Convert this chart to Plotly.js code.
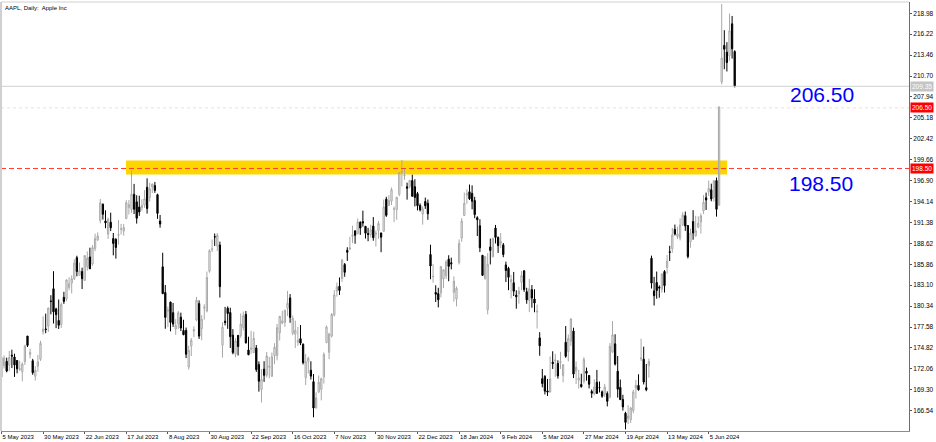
<!DOCTYPE html>
<html>
<head>
<meta charset="utf-8">
<script src="https://cdn.plot.ly/plotly-3.0.1.min.js"></script>
<style>html,body{margin:0;padding:0;background:#fff;}#chart{width:936px;height:442px;}</style>
</head>
<body>
<div id="chart"></div>
<script>
// ---- trading days (one candle each) ----
const dates = [
'2023-05-05','2023-05-08','2023-05-09','2023-05-10','2023-05-11','2023-05-12','2023-05-15','2023-05-16','2023-05-17','2023-05-18','2023-05-19','2023-05-22','2023-05-23','2023-05-24','2023-05-25','2023-05-26','2023-05-30','2023-05-31',
'2023-06-01','2023-06-02','2023-06-05','2023-06-06','2023-06-07','2023-06-08','2023-06-09','2023-06-12','2023-06-13','2023-06-14','2023-06-15','2023-06-16','2023-06-20','2023-06-21','2023-06-22','2023-06-23','2023-06-26','2023-06-27','2023-06-28','2023-06-29','2023-06-30',
'2023-07-03','2023-07-05','2023-07-06','2023-07-07','2023-07-10','2023-07-11','2023-07-12','2023-07-13','2023-07-14','2023-07-17','2023-07-18','2023-07-19','2023-07-20','2023-07-21','2023-07-24','2023-07-25','2023-07-26','2023-07-27','2023-07-28','2023-07-31',
'2023-08-01','2023-08-02','2023-08-03','2023-08-04','2023-08-07','2023-08-08','2023-08-09','2023-08-10','2023-08-11','2023-08-14','2023-08-15','2023-08-16','2023-08-17','2023-08-18','2023-08-21','2023-08-22','2023-08-23','2023-08-24','2023-08-25','2023-08-28','2023-08-29','2023-08-30','2023-08-31',
'2023-09-01','2023-09-05','2023-09-06','2023-09-07','2023-09-08','2023-09-11','2023-09-12','2023-09-13','2023-09-14','2023-09-15','2023-09-18','2023-09-19','2023-09-20','2023-09-21','2023-09-22','2023-09-25','2023-09-26','2023-09-27','2023-09-28','2023-09-29',
'2023-10-02','2023-10-03','2023-10-04','2023-10-05','2023-10-06','2023-10-09','2023-10-10','2023-10-11','2023-10-12','2023-10-13','2023-10-16','2023-10-17','2023-10-18','2023-10-19','2023-10-20','2023-10-23','2023-10-24','2023-10-25','2023-10-26','2023-10-27','2023-10-30','2023-10-31',
'2023-11-01','2023-11-02','2023-11-03','2023-11-06','2023-11-07','2023-11-08','2023-11-09','2023-11-10','2023-11-13','2023-11-14','2023-11-15','2023-11-16','2023-11-17','2023-11-20','2023-11-21','2023-11-22','2023-11-24','2023-11-27','2023-11-28','2023-11-29','2023-11-30',
'2023-12-01','2023-12-04','2023-12-05','2023-12-06','2023-12-07','2023-12-08','2023-12-11','2023-12-12','2023-12-13','2023-12-14','2023-12-15','2023-12-18','2023-12-19','2023-12-20','2023-12-21','2023-12-22','2023-12-26','2023-12-27','2023-12-28','2023-12-29',
'2024-01-02','2024-01-03','2024-01-04','2024-01-05','2024-01-08','2024-01-09','2024-01-10','2024-01-11','2024-01-12','2024-01-16','2024-01-17','2024-01-18','2024-01-19','2024-01-22','2024-01-23','2024-01-24','2024-01-25','2024-01-26','2024-01-29','2024-01-30','2024-01-31',
'2024-02-01','2024-02-02','2024-02-05','2024-02-06','2024-02-07','2024-02-08','2024-02-09','2024-02-12','2024-02-13','2024-02-14','2024-02-15','2024-02-16','2024-02-20','2024-02-21','2024-02-22','2024-02-23','2024-02-26','2024-02-27','2024-02-28','2024-02-29',
'2024-03-01','2024-03-04','2024-03-05','2024-03-06','2024-03-07','2024-03-08','2024-03-11','2024-03-12','2024-03-13','2024-03-14','2024-03-15','2024-03-18','2024-03-19','2024-03-20','2024-03-21','2024-03-22','2024-03-25','2024-03-26','2024-03-27','2024-03-28',
'2024-04-01','2024-04-02','2024-04-03','2024-04-04','2024-04-05','2024-04-08','2024-04-09','2024-04-10','2024-04-11','2024-04-12','2024-04-15','2024-04-16','2024-04-17','2024-04-18','2024-04-19','2024-04-22','2024-04-23','2024-04-24','2024-04-25','2024-04-26','2024-04-29','2024-04-30',
'2024-05-01','2024-05-02','2024-05-03','2024-05-06','2024-05-07','2024-05-08','2024-05-09','2024-05-10','2024-05-13','2024-05-14','2024-05-15','2024-05-16','2024-05-17','2024-05-20','2024-05-21','2024-05-22','2024-05-23','2024-05-24','2024-05-28','2024-05-29','2024-05-30','2024-05-31',
'2024-06-03','2024-06-04','2024-06-05','2024-06-06','2024-06-07','2024-06-10','2024-06-11','2024-06-12','2024-06-13','2024-06-14','2024-06-17','2024-06-18','2024-06-20'
];

const open = [
170.98,172.48,173.05,172.55,173.85,173.62,173.16,171.99,171.71,173.00,176.39,173.98,173.13,171.09,172.41,173.32,176.96,177.33,
177.70,181.03,182.63,179.97,178.44,177.90,181.50,181.27,182.80,183.37,183.96,186.73,184.41,184.90,183.74,185.55,186.83,185.89,187.93,189.08,191.63,
193.78,191.57,189.84,191.41,189.26,189.16,189.68,190.50,190.23,191.90,193.35,193.10,195.09,194.10,193.41,193.33,193.67,196.02,194.67,196.06,
196.24,195.04,191.57,185.52,182.13,179.69,180.87,179.48,177.32,177.97,178.88,177.13,177.14,172.30,175.07,177.06,178.52,180.67,177.38,180.09,179.70,184.94,187.84,
189.49,188.28,188.40,175.18,178.35,180.07,179.49,176.51,174.00,176.48,176.48,177.52,179.26,174.55,174.67,174.20,174.82,172.62,169.34,172.02,
171.22,172.26,171.09,173.79,173.80,176.81,178.10,178.20,180.07,181.42,176.75,176.65,175.58,176.04,175.31,170.91,173.05,171.88,170.37,166.91,169.02,169.35,
171.00,175.52,174.24,176.38,179.18,182.35,182.96,183.97,185.82,187.70,187.85,189.57,190.25,189.89,191.41,191.49,190.87,189.92,189.78,190.90,189.84,
190.33,189.98,190.21,194.45,193.63,194.20,193.11,193.08,195.09,198.02,197.53,196.09,196.16,196.90,196.10,195.18,193.61,192.49,194.14,193.90,
187.15,184.22,182.15,181.99,182.09,183.92,184.35,186.54,186.06,182.16,181.27,186.09,189.33,192.30,195.02,195.42,195.22,194.27,192.01,190.94,187.04,
183.99,179.86,188.15,186.86,190.64,189.39,188.65,188.42,185.77,185.32,183.55,183.42,181.79,181.94,183.48,185.01,182.24,181.10,182.51,181.27,
179.55,176.15,170.76,171.06,169.15,169.00,172.94,173.15,172.77,172.91,171.17,175.57,174.34,175.72,177.05,171.76,170.57,170.00,170.41,171.75,
171.19,169.08,168.79,170.29,169.59,169.03,168.70,168.80,168.34,174.26,175.36,171.75,169.61,168.03,166.21,165.52,165.35,166.54,169.53,169.88,173.37,173.33,
169.58,172.51,186.65,182.35,183.45,182.85,182.56,184.90,185.44,187.51,187.91,190.47,189.51,189.33,191.09,192.27,190.98,188.82,191.51,189.61,190.76,191.44,
192.90,194.64,195.40,195.69,194.65,196.90,193.65,209.90,214.74,213.85,213.37,217.59,213.93
];

const high = [
174.30,173.85,173.54,174.43,174.59,174.06,173.21,173.14,172.93,175.24,176.39,174.71,173.38,172.42,173.90,175.77,178.99,179.35,
180.12,181.78,184.95,180.12,181.21,180.84,182.23,183.89,184.15,184.39,186.52,186.99,186.10,185.41,187.05,187.56,188.05,188.39,189.90,190.07,194.48,
193.88,192.98,192.02,192.67,189.99,189.30,191.70,191.19,191.18,194.32,194.33,198.23,196.47,194.97,194.91,194.44,195.64,197.20,196.63,196.49,
196.73,195.18,192.37,187.38,183.13,180.27,180.93,180.75,178.62,179.69,179.48,178.54,177.51,175.10,176.13,177.68,181.55,181.10,179.15,180.59,184.90,187.85,189.12,
189.92,189.98,188.85,178.21,180.24,180.30,180.13,177.30,176.10,176.50,179.38,179.63,179.70,176.30,177.08,176.97,175.20,173.04,172.03,173.07,
174.30,173.63,174.21,175.45,177.99,179.05,179.72,179.85,182.34,181.93,179.08,178.42,177.58,177.84,175.42,174.01,173.67,173.06,171.38,168.96,171.17,170.90,
174.23,177.78,176.82,179.43,182.44,183.45,184.12,186.57,186.03,188.11,189.50,190.96,190.38,191.91,191.52,192.93,190.90,190.67,191.08,192.09,190.32,
191.56,190.05,194.40,194.76,195.00,195.99,193.49,194.72,198.00,199.62,198.40,196.63,196.95,197.68,197.08,195.41,193.89,193.50,194.66,194.40,
188.44,185.88,183.09,182.76,185.60,185.15,186.40,187.05,186.74,184.26,182.93,189.14,191.95,195.33,195.75,196.38,196.27,194.76,192.20,191.80,187.10,
186.95,187.33,189.25,189.31,191.05,189.54,189.99,188.67,186.21,185.53,184.49,184.85,182.43,182.89,184.96,185.04,182.76,183.92,183.12,182.57,
180.53,176.90,172.04,171.24,170.73,173.70,174.38,174.03,173.19,174.31,172.62,177.71,176.61,178.67,177.49,173.05,171.94,171.42,173.60,172.23,
171.25,169.34,170.68,171.92,170.39,169.20,170.08,169.09,175.46,178.36,176.63,173.76,170.65,168.64,166.40,167.26,167.05,169.30,170.61,171.34,176.03,174.99,
172.71,173.42,187.00,184.20,184.90,183.07,184.66,185.09,187.10,188.30,190.65,191.10,190.81,191.92,192.73,192.82,191.00,190.58,193.00,192.25,192.18,192.57,
194.99,195.32,196.90,196.50,196.94,197.30,206.70,220.20,216.75,215.17,218.95,218.63,214.10
];

const low = [
170.76,172.11,171.60,171.76,172.17,171.00,171.47,171.80,170.42,172.58,174.94,173.45,171.28,170.52,171.69,173.11,176.57,176.76,
176.93,179.26,178.04,177.43,177.32,177.46,180.63,180.97,182.44,182.02,183.78,184.27,184.41,182.59,183.67,185.01,185.23,185.67,187.60,188.94,191.26,
191.76,190.62,189.20,190.24,187.04,186.60,188.47,189.78,189.63,191.81,192.42,192.65,192.50,191.23,192.25,192.92,193.32,192.55,194.14,195.26,
195.28,191.85,190.69,181.92,177.35,177.58,177.01,177.60,176.55,177.31,177.05,176.50,173.48,171.96,173.74,176.25,178.33,176.01,175.82,178.55,179.50,184.74,187.48,
188.28,187.61,181.47,173.54,177.79,177.34,174.82,173.98,173.58,173.82,176.17,177.13,175.40,173.86,174.05,174.15,171.66,169.05,167.62,170.34,
170.93,170.82,170.97,172.68,173.18,175.80,177.95,177.60,179.04,178.14,176.51,174.80,175.11,175.19,172.64,169.93,171.45,170.65,165.67,166.83,168.87,167.90,
170.12,175.46,173.35,176.21,178.97,181.59,181.81,183.53,184.21,186.30,187.78,188.65,188.57,189.88,189.74,190.83,189.25,188.90,189.40,188.97,188.19,
189.23,187.45,190.18,192.11,193.59,193.67,191.42,191.72,194.85,196.16,197.00,194.39,195.89,194.83,193.50,192.97,192.83,191.09,193.17,191.73,
183.89,183.43,180.88,180.17,181.50,182.73,183.92,183.62,185.19,180.93,180.30,185.83,188.82,192.26,193.83,194.34,193.11,191.94,189.58,187.47,184.35,
183.82,179.25,185.84,186.77,188.61,187.35,188.00,186.79,183.51,182.44,181.35,181.67,180.00,180.66,182.46,182.23,180.65,179.56,180.13,179.53,
177.38,173.79,169.62,168.68,168.49,168.94,172.05,171.01,170.76,172.05,170.29,173.52,173.03,175.09,170.84,170.06,169.45,169.58,170.11,170.51,
169.48,168.23,168.58,168.82,168.95,168.24,168.35,167.11,168.16,174.21,172.50,168.27,168.00,166.55,164.08,164.77,164.92,166.21,168.15,169.18,173.10,170.00,
169.11,170.89,182.66,180.42,181.32,181.45,182.11,182.13,184.62,186.29,187.37,189.66,189.18,189.01,190.92,190.27,186.63,188.04,189.10,189.51,190.63,189.91,
192.52,193.03,194.87,194.17,194.14,192.15,193.63,209.60,211.60,211.30,212.72,213.00,209.20
];

const close = [
173.57,173.50,171.77,173.56,173.75,172.57,172.07,172.07,172.69,175.05,175.16,174.20,171.56,171.84,172.99,175.43,177.30,177.25,
180.09,180.95,179.58,179.21,177.82,180.57,180.96,183.79,183.31,183.95,186.01,184.92,185.01,183.96,187.00,186.68,185.27,188.06,189.25,189.59,193.97,
192.46,191.33,191.81,190.68,188.61,188.08,189.77,190.54,190.69,193.99,193.73,195.10,193.13,191.94,192.75,193.62,194.50,193.22,195.83,196.45,
195.61,192.58,191.17,181.99,178.85,179.80,178.19,177.97,177.79,179.46,177.45,176.57,174.00,174.49,175.84,177.23,181.12,176.38,178.61,180.19,184.12,187.65,187.87,
189.46,189.70,182.91,177.56,178.18,179.36,176.30,174.21,175.74,175.01,177.97,179.07,175.49,173.93,174.79,176.08,171.96,170.43,170.69,171.21,
173.75,172.40,173.66,174.91,177.49,178.99,178.39,179.80,180.71,178.85,178.72,177.15,175.84,175.46,172.88,173.00,173.44,171.10,166.89,168.22,170.29,170.77,
173.97,177.57,176.65,179.23,181.82,182.89,182.41,186.40,184.80,187.44,188.01,189.71,189.69,191.45,190.64,191.31,189.97,189.79,190.40,189.37,189.95,
191.24,189.43,193.42,192.32,194.27,195.71,193.18,194.71,197.96,198.11,197.57,195.89,196.94,194.83,194.68,193.60,193.05,193.15,193.58,192.53,
185.64,184.25,181.91,181.18,185.56,185.14,186.19,185.59,185.92,183.63,182.68,188.63,191.56,193.89,195.18,194.50,194.17,192.42,191.73,188.04,184.40,
186.86,185.85,187.68,189.30,189.41,188.32,188.85,187.15,185.04,184.15,183.86,182.31,181.56,182.32,184.37,182.52,181.16,182.63,181.42,180.75,
179.66,175.10,170.12,169.12,169.00,170.73,172.75,173.23,171.13,173.00,172.62,173.72,176.08,178.67,171.37,172.28,170.85,169.71,173.31,171.48,
170.03,168.84,169.65,168.82,169.58,168.45,169.67,167.78,175.04,176.55,172.69,169.38,168.00,167.04,165.00,165.84,166.90,169.02,169.89,169.30,173.50,170.33,
169.30,173.03,183.38,181.71,182.40,182.74,184.57,183.05,186.28,187.43,189.72,189.84,189.87,191.04,192.35,190.90,186.88,189.98,189.99,190.29,191.29,192.25,
194.03,194.35,195.87,194.48,196.89,193.12,206.60,213.07,214.24,212.49,216.67,214.29,209.35
];

// ---- axis labels ----
const tickDates = ['2023-05-05','2023-05-30','2023-06-22','2023-07-17','2023-08-08','2023-08-30','2023-09-22','2023-10-16','2023-11-07','2023-11-30','2023-12-22','2024-01-18','2024-02-09','2024-03-05','2024-03-27','2024-04-19','2024-05-13','2024-06-05'];
const tickLabels = ['5 May 2023','30 May 2023','22 Jun 2023','17 Jul 2023','8 Aug 2023','30 Aug 2023','22 Sep 2023','16 Oct 2023','7 Nov 2023','30 Nov 2023','22 Dec 2023','18 Jan 2024','9 Feb 2024','5 Mar 2024','27 Mar 2024','19 Apr 2024','13 May 2024','5 Jun 2024'];
const priceTicks = [166.54,169.30,172.06,174.82,177.58,180.34,183.10,185.86,188.62,191.38,194.14,196.90,199.66,202.42,205.18,207.94,210.70,213.46,216.22,218.98];

// ---- levels ----
const levelHigh = 206.50;
const levelLow = 198.50;
const bidPrice = 209.35;
const zoneTop = 199.56;
const zoneBottom = 197.71;
const zoneStart = '2023-07-19';
const zoneEnd = '2024-06-14';

const xIdx = dates.map((d, i) => i);
const font = 'Liberation Sans, Arial, sans-serif';

const trace = {
  type: 'candlestick',
  x: xIdx, open: open, high: high, low: low, close: close,
  increasing: {line: {color: '#a8a8a8', width: 1}, fillcolor: '#ffffff'},
  decreasing: {line: {color: '#000000', width: 1}, fillcolor: '#000000'},
  whiskerwidth: 0,
  hoverinfo: 'skip',
  showlegend: false
};

const layout = {
  width: 936, height: 442,
  margin: {l: 1, r: 27, t: 2, b: 11},
  paper_bgcolor: '#ffffff', plot_bgcolor: '#ffffff',
  showlegend: false,
  xaxis: {
    type: 'linear',
    range: [-0.19, 349.04],
    rangeslider: {visible: false},
    tickvals: tickDates.map(d => dates.indexOf(d)),
    ticktext: tickLabels,
    tickangle: 0,
    ticks: 'outside', ticklen: 2, tickcolor: '#555',
    ticklabelposition: 'outside right',
    tickfont: {family: font, size: 6, color: '#000'},
    showgrid: false, zeroline: false,
    showline: true, linecolor: '#8c8c8c', linewidth: 1,
    automargin: false,
    fixedrange: true
  },
  yaxis: {
    side: 'right',
    range: [163.86, 220.47],
    tickvals: priceTicks,
    ticktext: priceTicks.map(v => v.toFixed(2)),
    ticks: 'outside', ticklen: 2, tickcolor: '#555',
    tickfont: {family: font, size: 6.5, color: '#000'},
    showgrid: false, zeroline: false,
    showline: true, linecolor: '#6e6e6e', linewidth: 1,
    automargin: false,
    fixedrange: true
  },
  shapes: [
    {type: 'rect', xref: 'x', yref: 'y', x0: dates.indexOf(zoneStart) - 2.1, x1: dates.indexOf(zoneEnd) + 0.1,
     y0: zoneBottom, y1: zoneTop, fillcolor: '#FFD500', line: {width: 0}, layer: 'below'},
    {type: 'line', xref: 'paper', yref: 'y', x0: 0, x1: 1, y0: bidPrice, y1: bidPrice,
     line: {color: '#cfcfcf', width: 1}},
    {type: 'line', xref: 'paper', yref: 'y', x0: 0, x1: 1, y0: levelHigh, y1: levelHigh,
     line: {color: 'rgba(240,170,170,0.45)', width: 1, dash: 'dot'}},
    {type: 'line', xref: 'paper', yref: 'y', x0: 0, x1: 1, y0: levelLow, y1: levelLow,
     line: {color: '#ff3b3b', width: 1, dash: '5px,3px'}},
    {type: 'line', xref: 'paper', yref: 'paper', x0: 0, x1: 1, y0: 1, y1: 1,
     line: {color: '#d0d0d0', width: 1}},
    {type: 'line', xref: 'paper', yref: 'paper', x0: 0, x1: 0, y0: 0, y1: 1,
     line: {color: '#d0d0d0', width: 2}}
  ],
  annotations: [
    {xref: 'paper', yref: 'paper', x: 0, y: 1, xanchor: 'left', yanchor: 'top', xshift: 2, yshift: -1,
     text: 'AAPL, Daily:&nbsp; Apple Inc', showarrow: false, font: {family: font, size: 6, color: '#000'}},
    {xref: 'paper', yref: 'paper', x: 0.8667, y: 0.7855, xanchor: 'left', yanchor: 'middle',
     text: levelHigh.toFixed(2), showarrow: false, font: {family: font, size: 21, color: '#0000ff'}},
    {xref: 'paper', yref: 'paper', x: 0.8656, y: 0.5772, xanchor: 'left', yanchor: 'middle',
     text: levelLow.toFixed(2), showarrow: false, font: {family: font, size: 21, color: '#0000ff'}},
    {xref: 'paper', yref: 'y', x: 1, y: bidPrice, xanchor: 'left', yanchor: 'middle', xshift: 1,
     text: bidPrice.toFixed(2), showarrow: false, bgcolor: '#c4c4c4', borderpad: 1,
     font: {family: font, size: 6.5, color: '#ffffff'}},
    {xref: 'paper', yref: 'y', x: 1, y: levelHigh, xanchor: 'left', yanchor: 'middle', xshift: 1,
     text: levelHigh.toFixed(2), showarrow: false, bgcolor: '#ff0000', borderpad: 1,
     font: {family: font, size: 6.5, color: '#ffffff'}},
    {xref: 'paper', yref: 'y', x: 1, y: levelLow, xanchor: 'left', yanchor: 'middle', xshift: 1,
     text: levelLow.toFixed(2), showarrow: false, bgcolor: '#ff0000', borderpad: 1,
     font: {family: font, size: 6.5, color: '#ffffff'}}
  ]
};

Plotly.newPlot('chart', [trace], layout, {displayModeBar: false, staticPlot: true});
</script>
</body>
</html>
